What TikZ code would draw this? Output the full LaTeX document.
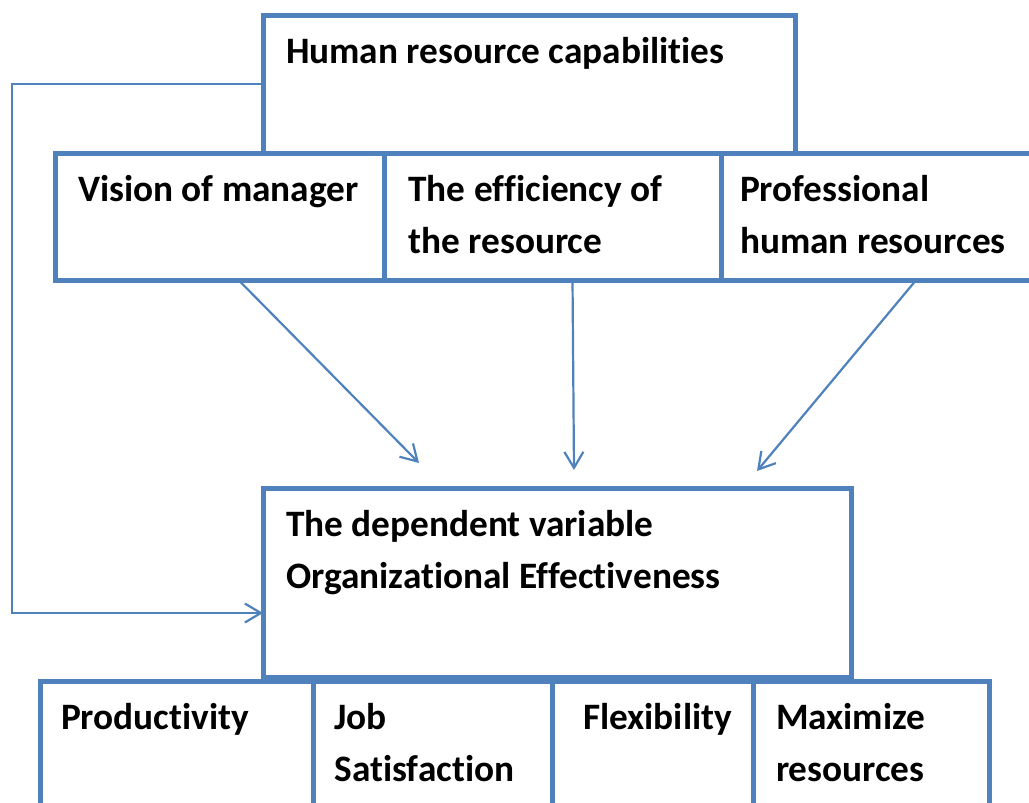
\documentclass[tikz,border=0pt]{standalone}
\usepackage{fontspec}
\setmainfont{Carlito}[Ligatures=NoCommon]
\usetikzlibrary{arrows.meta,positioning}
\definecolor{boxblue}{RGB}{79,129,189}
% box text: [indent]{width}{height}{text}, first baseline 48.5pt below the top
\newcommand{\celltext}[4][23]{\parbox[c][#3pt][t]{#2pt}{\raggedright\leftskip=#1pt\rule{0pt}{48.5pt}#4}}
\tikzset{
	cell/.style={draw=boxblue,line width=5pt,anchor=north west,inner sep=0pt,outer sep=0pt,
		font=\fontsize{37.3}{52}\selectfont\bfseries},
	link/.style={draw=boxblue,line width=2.2pt}
}

\begin{document}
\begin{tikzpicture}
	[x=1pt,y=-1pt,>={Straight Barb[length=16pt,width=19pt]},every node/.style={cell}]
	\useasboundingbox (0,0) rectangle (1029,803);
	\clip (0,0) rectangle (1029,803);
	\node (hrc) at (263,15) {\celltext{532}{138}{Human resource capabilities}};
	\node (vis) at (55,153) {\celltext{329}{127}{Vision of manager}};
	\node[right=0pt of vis] (eff) {\celltext[24.5]{337}{127}{The efficiency of\\the resource}};
	\node[right=0pt of eff] (pro) {\celltext[19]{330}{127}{Professional\\human resources}};
	\node (dep) at (263,488) {\celltext{588}{189}{The dependent variable\\Organizational Effectiveness}};
	\node (prod) at (40,681) {\celltext[21]{273}{150}{Productivity}};
	\node[right=0pt of prod] (job) {\celltext[21.5]{239}{150}{Job\\Satisfaction}};
	\node[right=0pt of job] (flex) {\celltext[31]{201}{150}{Flexibility}};
	\node[right=0pt of flex] (max) {\celltext{236}{150}{Maximize\\resources}};
	\coordinate (in1) at (419,463);
	\coordinate (in2) at (574,470);
	\coordinate (in3) at (757,471);
	\coordinate (bend) at (12,613);
	\path
	\foreach \startNode/\dx/\endNode in {vis/18/in1,eff/20/in2,pro/31/in3}
	{
		([xshift=\dx pt,yshift=1pt]\startNode.south) edge[link,->] (\endNode)
	};
	\draw[link,->] (hrc.west) -| (bend) -- (bend -| dep.west);
\end{tikzpicture}
\end{document}
